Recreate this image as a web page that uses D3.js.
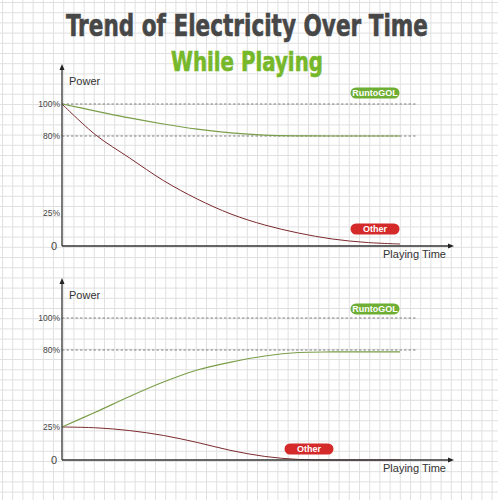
<!DOCTYPE html>
<html>
<head>
<meta charset="utf-8">
<script src="https://cdn.jsdelivr.net/npm/d3@7"></script>
<style>
  body { margin: 0; background: #fff; }
  svg { display: block; font-family: Arial, "Liberation Sans", sans-serif; }
</style>
</head>
<body>
<div id="chart"></div>
<script>
// data //

const times = [0, 1, 2, 3, 4, 5, 6, 7, 8, 9, 10];
const yTicks = [0, 25, 80, 100];
const yTickLabels = ["0", "25%", "80%", "100%"];
const dashedTicks = [80, 100];

// top panel - discharging
const topRuntogol = [100, 95.6, 91.3, 87.5, 84.3, 82, 80.6, 80.1, 80, 80, 80];
const topOther = [100, 80.6, 64.3, 48.2, 35, 24.2, 15.9, 9.8, 5.3, 2.7, 1.5];

// bottom panel - charging
const bottomRuntogol = [25, 35.7, 46.8, 57.1, 65.7, 71.4, 75.7, 78.2, 78.6, 78.6, 78.6];
const bottomOther = [25, 24.4, 22.3, 18.6, 13.3, 7.2, 2.7, 0.4, 0, 0, 0];

const W = 498, H = 500;

const svg = d3.select("#chart")
  .append("svg")
    .attr("width", W)
    .attr("height", H);

// background grid
const grid = svg.append("g").attr("stroke", "#e0e0e0").attr("stroke-width", 1);
grid.selectAll("line.v")
  .data(d3.range(2.5, W, 10.2))
  .join("line")
  .attr("x1", d => d).attr("x2", d => d)
  .attr("y1", 0).attr("y2", H);
grid.selectAll("line.h")
  .data(d3.range(2.5, H, 10.2))
  .join("line")
  .attr("x1", 0).attr("x2", W)
  .attr("y1", d => d).attr("y2", d => d);

// titles - squeeze a bold font to get the condensed poster look
function title(txt, cx, base, size, width, color) {
  const t = svg.append("text")
    .attr("text-anchor", "middle")
    .style("font-family", "'DejaVu Sans Condensed', 'DejaVu Sans'")
    .style("font-weight", "bold")
    .style("font-size", size + "px")
    .attr("fill", color)
    .attr("stroke", color)
    .attr("stroke-width", 0.6)
    .text(txt);
  const w = t.node().getComputedTextLength();
  t.attr("transform", `translate(${cx},${base}) scale(${width / w},1)`);
}
title("Trend of Electricity Over Time", 247, 36, 31, 362, "#474747");
title("While Playing", 247, 71, 27, 152, "#76b82a");

const x = d3.scaleLinear().domain([0, 10]).range([62, 400]);

function drawPanel(top, runtogol, other, tagOther) {
  // power scale is schematic, not linear
  const y = d3.scaleLinear()
    .domain(yTicks)
    .range([top + 142, top + 109, top + 32, top]);

  const g = svg.append("g");
  const x0 = 62, xEnd = 454, y0 = y(0);

  // dashed reference lines
  g.selectAll(".ref")
    .data(dashedTicks)
    .join("line")
    .attr("x1", x0).attr("x2", 416)
    .attr("y1", d => y(d)).attr("y2", d => y(d))
    .attr("stroke", "#666")
    .attr("stroke-width", 0.8)
    .attr("stroke-dasharray", "2.5,2");

  // y tick labels
  g.selectAll(".tk")
    .data(yTicks)
    .join("text")
    .attr("x", d => d === 0 ? 57 : 60)
    .attr("y", d => y(d) + (d === 0 ? 4 : 3))
    .attr("text-anchor", "end")
    .style("font-size", d => d === 0 ? "11px" : "8.5px")
    .attr("fill", "#444")
    .text((d, i) => yTickLabels[i]);

  const line = d3.line()
    .x((d, i) => x(times[i]))
    .y(d => y(d))
    .curve(d3.curveCatmullRom.alpha(0.5));

  g.append("path")
    .datum(other)
    .attr("fill", "none")
    .attr("stroke", "#7b2a2e")
    .attr("stroke-width", 1)
    .attr("d", line);

  g.append("path")
    .datum(runtogol)
    .attr("fill", "none")
    .attr("stroke", "#7a9e4a")
    .attr("stroke-width", 1.2)
    .attr("d", line);

  // axes
  g.append("line")
    .attr("x1", x0).attr("x2", x0)
    .attr("y1", y0).attr("y2", top - 36)
    .attr("stroke", "#333").attr("stroke-width", 1.3);
  g.append("line")
    .attr("x1", x0).attr("x2", xEnd - 4)
    .attr("y1", y0).attr("y2", y0)
    .attr("stroke", "#333").attr("stroke-width", 1.3);
  g.append("path")
    .attr("d", `M${x0 - 2.5},${top - 34} L${x0},${top - 40} L${x0 + 2.5},${top - 34} Z`)
    .attr("fill", "#222");
  g.append("path")
    .attr("d", `M${xEnd - 6},${y0 - 2.5} L${xEnd},${y0} L${xEnd - 6},${y0 + 2.5} Z`)
    .attr("fill", "#222");

  g.append("text")
    .attr("x", 69).attr("y", top - 19)
    .style("font-size", "11px")
    .attr("fill", "#333")
    .text("Power");

  g.append("text")
    .attr("x", 446).attr("y", y0 + 12)
    .attr("text-anchor", "end")
    .style("font-size", "11px")
    .attr("fill", "#333")
    .text("Playing Time");

  // badges
  function badge(cx, cy, w, label, color) {
    g.append("rect")
      .attr("x", cx - w / 2).attr("y", cy - 5.5)
      .attr("width", w).attr("height", 11)
      .attr("rx", 5.5)
      .attr("fill", color);
    g.append("text")
      .attr("x", cx).attr("y", cy + 3.3)
      .attr("text-anchor", "middle")
      .style("font-size", "9px")
      .style("font-weight", "bold")
      .attr("fill", "#fff")
      .text(label);
  }
  badge(x(10) - 25, y(runtogol[10]) - 43, 49, "RuntoGOL", "#6fae34");
  badge(tagOther[0], tagOther[1], 49, "Other", "#d42a2a");
}

drawPanel(104, topRuntogol, topOther, [375, 229]);
drawPanel(318, bottomRuntogol, bottomOther, [309, 449]);
</script>
</body>
</html>
